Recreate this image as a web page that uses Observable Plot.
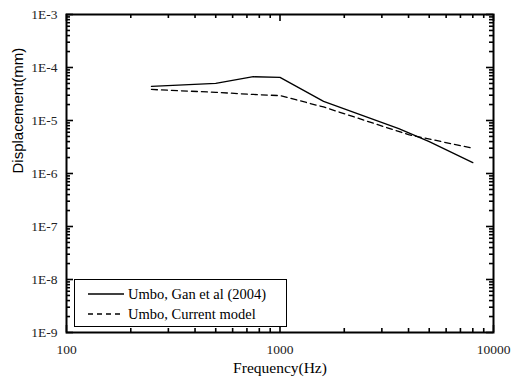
<!DOCTYPE html>
<html>
<head>
<meta charset="utf-8">
<script src="https://cdn.jsdelivr.net/npm/d3@7"></script>
<script src="https://cdn.jsdelivr.net/npm/@observablehq/plot@0.6"></script>
<style>
  html, body { margin: 0; padding: 0; background: #fff; }
  #wrap { position: relative; width: 523px; height: 384px; }
  #wrap svg text { font-family: "Liberation Serif", "Times New Roman", Times, "DejaVu Serif", serif; }
  #wrap svg text.sans { font-family: "Liberation Sans", Arial, Helvetica, sans-serif; }
  #legend {
    position: absolute; left: 74px; top: 279px; width: 213px; height: 48px;
    border: 1px solid #000; background: #fff; box-sizing: border-box;
    font-family: "Liberation Serif", "Times New Roman", Times, "DejaVu Serif", serif; font-size: 14.5px; color: #000;
  }
  .row { position: absolute; left: 13px; height: 18px; display: flex; align-items: center; }
  .row svg { margin-right: 4px; }
</style>
</head>
<body>
<div id="wrap"></div>
<script>
// Data
const freqGan = [250, 500, 750, 1000, 1600, 3600, 5000, 8000];
const dispGan = [4.4e-5, 5.0e-5, 6.7e-5, 6.5e-5, 2.3e-5, 7.0e-6, 4.0e-6, 1.6e-6];
const freqModel = [250, 500, 750, 1000, 1600, 4000, 8000];
const dispModel = [3.85e-5, 3.4e-5, 3.1e-5, 2.95e-5, 1.8e-5, 5.4e-6, 3.0e-6];
const seriesNames = ["Umbo, Gan et al (2004)", "Umbo, Current model"];
const xMajor = [100, 1000, 10000];
const xMinor = [200, 300, 400, 500, 600, 700, 800, 900, 2000, 3000, 4000, 5000, 6000, 7000, 8000, 9000];
const yMajor = [1e-9, 1e-8, 1e-7, 1e-6, 1e-5, 1e-4, 1e-3];
const yMinorMantissas = [2, 3, 4, 5, 6, 7, 8, 9];
const yMinor = yMajor.slice(0, -1).flatMap(p => yMinorMantissas.map(m => m * p));
const xTitle = "Frequency(Hz)";
const yTitle = "Displacement(mm)";

const W = 523, H = 384, ML = 66, MR = 30, MT = 14, MB = 52;
const PW = W - ML - MR, PH = H - MT - MB;

const gan = freqGan.map((f, i) => ({f, d: dispGan[i]}));
const model = freqModel.map((f, i) => ({f, d: dispModel[i]}));
const yFmt = d => "1E" + Math.round(Math.log10(d));

// inward tick marks on all four sides
const TS = {stroke: "#000", strokeWidth: 1.6};
const tickMarks = [
  Plot.tickX(xMajor, {x: d => d, insetTop: PH - 7, ...TS}),
  Plot.tickX(xMinor, {x: d => d, insetTop: PH - 4, ...TS}),
  Plot.tickX(xMajor, {x: d => d, insetBottom: PH - 7, ...TS}),
  Plot.tickX(xMinor, {x: d => d, insetBottom: PH - 4, ...TS}),
  Plot.tickY(yMajor, {y: d => d, insetRight: PW - 7, ...TS}),
  Plot.tickY(yMinor, {y: d => d, insetRight: PW - 4, ...TS}),
  Plot.tickY(yMajor, {y: d => d, insetLeft: PW - 7, ...TS}),
  Plot.tickY(yMinor, {y: d => d, insetLeft: PW - 4, ...TS})
];

const chart = Plot.plot({
  width: W, height: H,
  marginLeft: ML, marginRight: MR, marginTop: MT, marginBottom: MB,
  x: {type: "log", domain: [100, 10000]},
  y: {type: "log", domain: [1e-9, 1e-3]},
  style: {fontSize: "13px", color: "#000", background: "#fff"},
  marks: [
    Plot.axisX({anchor: "bottom", ticks: xMajor, tickSize: 0, tickPadding: 12, tickFormat: d => String(d), label: null, fill: "#222", fontSize: 13.5}),
    Plot.axisY({anchor: "left", ticks: yMajor, tickSize: 0, tickPadding: 9, tickFormat: yFmt, label: null, fill: "#222", fontSize: 13.5}),
    ...tickMarks,
    Plot.line(gan, {x: "f", y: "d", stroke: "#000", strokeWidth: 1.3}),
    Plot.line(model, {x: "f", y: "d", stroke: "#000", strokeWidth: 1.3, strokeDasharray: "6,4"}),
    Plot.frame({stroke: "#000", strokeWidth: 2}),
    Plot.text([xTitle], {frameAnchor: "bottom", text: d => d, dy: 40, fontSize: 15.5}),
    Plot.text([yTitle], {frameAnchor: "left", text: d => d, dx: -48, rotate: -90, fontSize: 15})
  ]
});

const wrap = document.getElementById("wrap");
wrap.appendChild(chart);
chart.querySelectorAll("text").forEach(t => { if (t.textContent === yTitle) t.classList.add("sans"); });

const legend = document.createElement("div");
legend.id = "legend";
const dashes = [null, "5,4"];
seriesNames.forEach((name, i) => {
  const row = document.createElement("div");
  row.className = "row";
  row.style.top = (5 + i * 20) + "px";
  row.innerHTML = `<svg width="36" height="6"><line x1="0" x2="36" y1="3" y2="3" stroke="#000" stroke-width="1.3" ${dashes[i] ? `stroke-dasharray="${dashes[i]}"` : ""}/></svg><span>${name}</span>`;
  legend.appendChild(row);
});
wrap.appendChild(legend);
</script>
</body>
</html>
